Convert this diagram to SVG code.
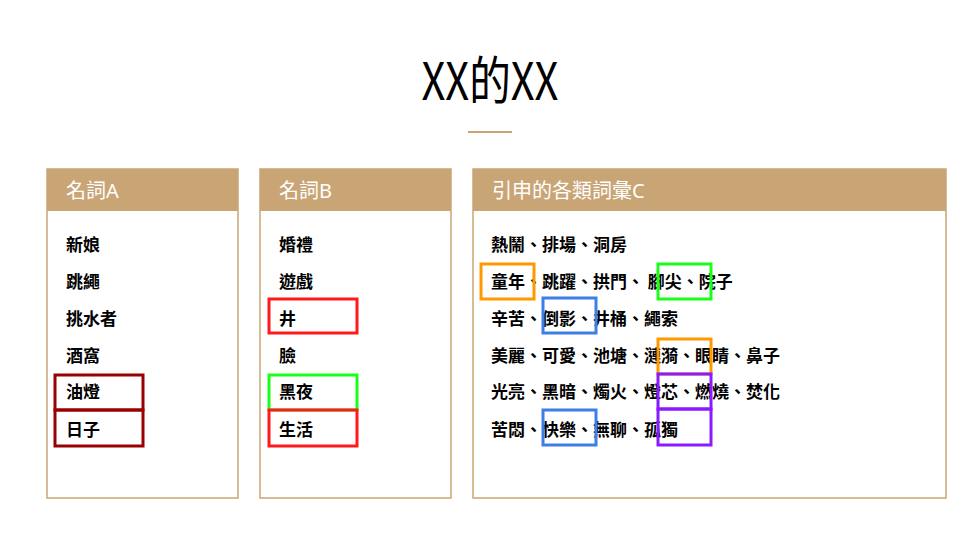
<svg xmlns="http://www.w3.org/2000/svg" width="980" height="552" viewBox="0 0 980 552">
<style>
.hd{fill:#c9a576}
.pn{fill:#fff;stroke:#c9a576;stroke-width:1.5}
.ht{font-family:"Noto Sans","Noto Sans CJK TC",sans-serif;font-size:20px;fill:#fff}
.t{font-family:"Noto Sans CJK TC",sans-serif;font-size:17px;font-weight:bold;fill:#000}
.b{fill:none;stroke-width:3}
</style>
<rect width="980" height="552" fill="#fff"/>
<text x="490" y="100" text-anchor="middle" font-family="'Noto Sans CJK TC',sans-serif" font-size="52" transform="translate(490 0) scale(0.8 1) translate(-490 0)" fill="#000">XX的XX</text>
<line x1="468" y1="132" x2="512" y2="132" stroke="#c9a576" stroke-width="2"/>
<g id="panelA">
<rect class="pn" x="47" y="169" width="191" height="329"/>
<rect class="hd" x="47" y="169" width="191" height="42"/>
<text class="ht" x="66" y="198">名詞A</text>
<text class="t" x="66" y="251">新娘</text>
<text class="t" x="66" y="288">跳繩</text>
<text class="t" x="66" y="325">挑水者</text>
<text class="t" x="66" y="362">酒窩</text>
<text class="t" x="66" y="398">油燈</text>
<text class="t" x="66" y="436">日子</text>
</g>
<g id="panelB">
<rect class="pn" x="260" y="169" width="191" height="329"/>
<rect class="hd" x="260" y="169" width="191" height="42"/>
<text class="ht" x="279" y="198">名詞B</text>
<text class="t" x="279" y="251">婚禮</text>
<text class="t" x="279" y="288">遊戲</text>
<text class="t" x="279" y="325">井</text>
<text class="t" x="279" y="362">臉</text>
<text class="t" x="279" y="398">黑夜</text>
<text class="t" x="279" y="436">生活</text>
</g>
<g id="panelC">
<rect class="pn" x="473" y="169" width="473" height="329"/>
<rect class="hd" x="473" y="169" width="473" height="42"/>
<text class="ht" x="492" y="198">引申的各類詞彙C</text>
<text class="t" x="491" y="251">熱鬧、排場、洞房</text>
<text class="t" x="491" y="288">童年、跳躍、拱門、 腳尖、院子</text>
<text class="t" x="491" y="325">辛苦、倒影、井桶、繩索</text>
<text class="t" x="491" y="362">美麗、可愛、池塘、漣漪、眼睛、鼻子</text>
<text class="t" x="491" y="398">光亮、黑暗、燭火、燈芯、燃燒、焚化</text>
<text class="t" x="491" y="436">苦悶、快樂、無聊、孤獨</text>
</g>
<g id="highlights">
<rect class="b" stroke="#990000" x="55" y="375" width="88" height="35"/>
<rect class="b" stroke="#990000" x="55" y="410" width="88" height="36"/>
<rect class="b" stroke="#ff1a1a" x="269" y="299" width="88" height="34"/>
<rect class="b" stroke="#1aff1a" x="269" y="375" width="88" height="35"/>
<rect class="b" stroke="#ff1a1a" x="269" y="410" width="88" height="36"/>
<rect class="b" stroke="#ff9900" x="481" y="264" width="53" height="35"/>
<rect class="b" stroke="#1aff1a" x="658" y="264" width="53" height="35"/>
<rect class="b" stroke="#3d7fe6" x="543" y="298" width="53" height="35"/>
<rect class="b" stroke="#ff9900" x="658" y="339" width="53" height="35"/>
<rect class="b" stroke="#8a1aff" x="658" y="374" width="53" height="35"/>
<rect class="b" stroke="#8a1aff" x="658" y="409" width="53" height="36"/>
<rect class="b" stroke="#3d7fe6" x="543" y="410" width="53" height="35"/>
</g>
</svg>
